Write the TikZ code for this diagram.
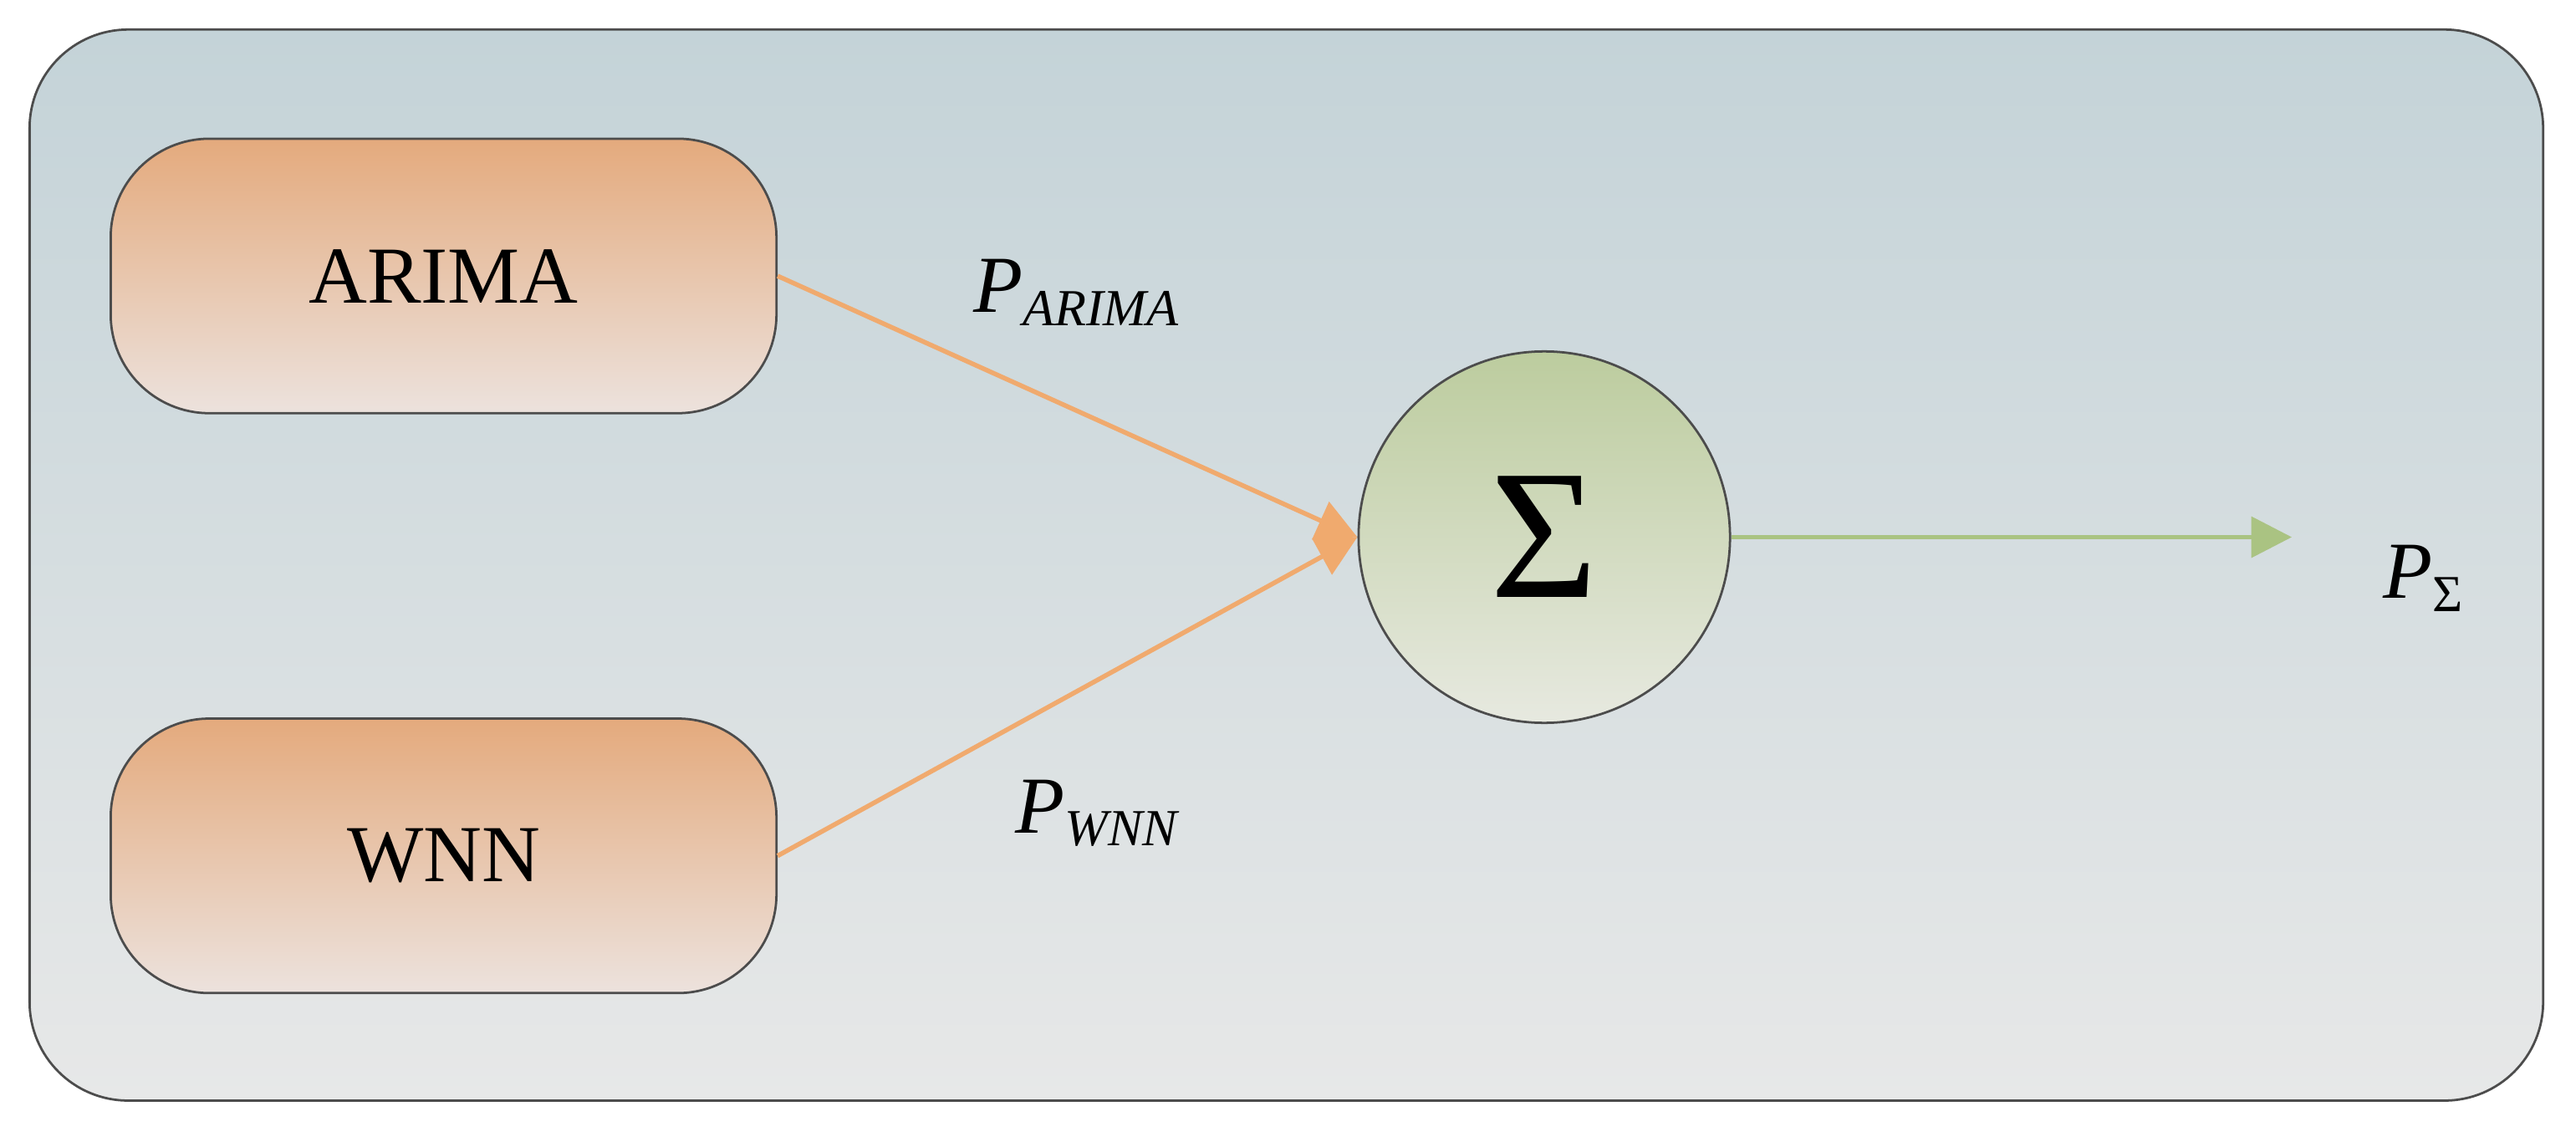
\documentclass[tikz,border=0pt]{standalone}
\usepackage{fontspec}
\setmainfont{Liberation Serif}
\usetikzlibrary{arrows.meta}
\definecolor{bgtop}{RGB}{196,211,216}
\definecolor{bgbot}{RGB}{231,232,232}
\definecolor{btop}{RGB}{228,170,125}
\definecolor{bbot}{RGB}{236,226,221}
\definecolor{ctop}{RGB}{188,204,158}
\definecolor{cbot}{RGB}{231,233,224}
\definecolor{oarrow}{RGB}{240,170,110}
\definecolor{garrow}{RGB}{170,195,130}
\begin{document}
\begin{tikzpicture}[x=0.01cm,y=-0.01cm,
  model/.style={draw=black!70,rounded corners=0.6cm,top color=btop,bottom color=bbot,minimum width=4.05cm,minimum height=1.67cm,font=\fontsize{14}{16}\selectfont},
  lbl/.style={font=\fontsize{14}{16}\selectfont},
  conn/.style={line width=0.8pt,-{Triangle[length=7pt,width=7pt]}}]
\useasboundingbox (0,0) rectangle (1568,695);
\draw[draw=black!70,rounded corners=0.6cm,top color=bgtop,bottom color=bgbot] (18,18) rectangle (1548,670);
\node[model] (arima) at (270,168) {ARIMA};
\node[model] (wnn) at (270,521) {WNN};
\node[circle,draw=black!70,top color=ctop,bottom color=cbot,minimum size=2.26cm,inner sep=0pt,font=\fontsize{32}{34}\selectfont] (sum) at (940,327) {Σ};
\coordinate (out) at (1395,327);
\draw[oarrow,conn] (arima.east) -- (sum.west);
\draw[oarrow,conn] (wnn.east) -- (sum.west);
\draw[garrow,conn] (sum.east) -- (out);
\node[lbl] (pa) at (655,178) {\textit{P}\raisebox{-0.35ex}{\fontsize{9}{10}\selectfont\textit{ARIMA}}};
\node[lbl] (pw) at (668,495) {\textit{P}\raisebox{-0.35ex}{\fontsize{9}{10}\selectfont\textit{WNN}}};
\node[lbl] (ps) at (1475,352) {\textit{P}\raisebox{-0.35ex}{\fontsize{9}{10}\selectfont Σ}};
\end{tikzpicture}
\end{document}
